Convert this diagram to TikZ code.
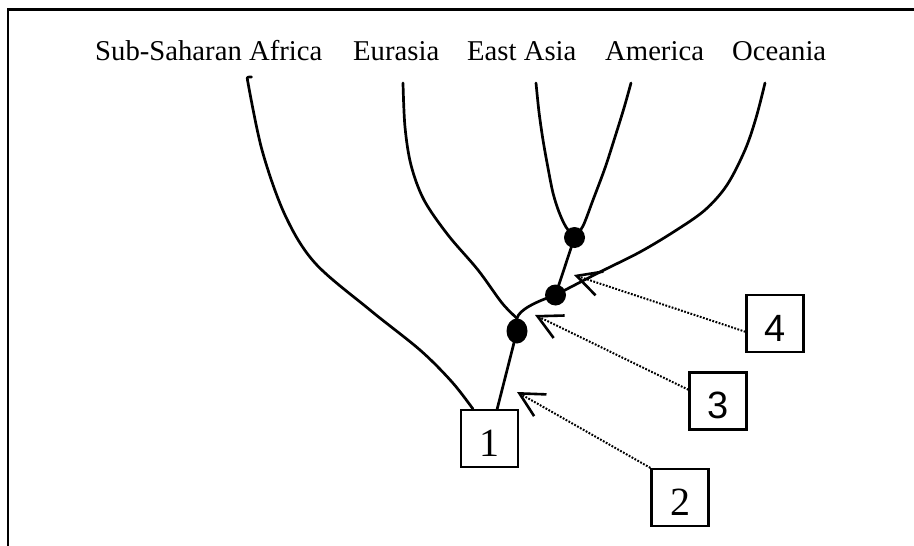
\documentclass[tikz,border=0pt]{standalone}
\usepackage{fontspec}
\setmainfont{Liberation Serif}
\newfontfamily\digsans{Liberation Sans}
\usetikzlibrary{arrows.meta,shapes.geometric,calc}
\begin{document}
\begin{tikzpicture}[x=1pt,y=-1pt,
  branch/.style={line width=2.7pt, line cap=round, line join=round},
  taxon/.style={anchor=base west, inner sep=0pt, font=\fontsize{28.7}{34}\selectfont},
  junction/.style={circle, fill=black, inner sep=0pt, minimum size=21pt},
  blob/.style={ellipse, fill=black, inner sep=0pt, minimum width=21pt, minimum height=25pt},
  numbox/.style={draw, line width=2.2pt, minimum size=57pt, inner sep=0pt, text height=35pt, text depth=0pt, font=\fontsize{40}{48}\selectfont},
  sansnum/.style={font=\digsans\fontsize{38}{46}\selectfont},
  pointer/.style={line width=2pt, dash pattern=on 1.8pt off 1.5pt, -{Straight Barb[length=24pt,width=25pt,line width=2.6pt]}}
]
\useasboundingbox (0,0) rectangle (914,546);
\fill[white] (0,0) rectangle (914,546);
% frame
\draw[line width=2.5pt] (914,9.5) -- (7.8,9.5) -- (7.8,546);

% taxa labels
\node[taxon] (ssa) at (95,60.7) {Sub-Saharan Africa};
\node[taxon] (eur) at (353,60.7) {Eurasia};
\node[taxon] (eas) at (467,60.7) {East Asia};
\node[taxon] (ame) at (605,60.7) {America};
\node[taxon] (oce) at (732,60.7) {Oceania};

% branch tips
\coordinate (tAfr) at (247.5,80);
\coordinate (tEur) at (403,83);
\coordinate (tEas) at (536,83);
\coordinate (tAme) at (631,83);
\coordinate (tOce) at (765,83);

% junctions
\node[blob] (A) at (517,331) {};
\node[junction] (B) at (555.5,295) {};
\node[junction] (C) at (574.5,237.5) {};

% boxes
\node[numbox] (b1) at (489.5,438.5) {1};
\node[numbox] (b2) at (680,497.5) {2};
\node[numbox, sansnum] (b3) at (718,401) {3};
\node[numbox, sansnum] (b4) at (775,323.5) {4};

\coordinate (r1) at ($(b1.north west)!0.22!(b1.north east)$);
\coordinate (r2) at ($(b1.north west)!0.63!(b1.north east)$);

% branches
\draw[branch] (tAfr) .. controls (247,77) .. (251.5,77);
\draw[branch] plot[smooth, tension=0.55] coordinates {(tAfr) (262,150) (285,215) (315,263) (370,310) (420,350) (452,382) (r1)};
\draw[branch] plot[smooth, tension=0.55] coordinates {(tEur) (405,127) (411,165) (424,200) (448,235) (478,270) (502,303) (A.north)};
\draw[branch] (A.north) .. controls (519,310) and (535,302) .. (B.center);
\draw[branch] (A.center) -- (r2);
\draw[branch] (B.center) -- (C.center);
\draw[branch] plot[smooth, tension=0.55] coordinates {(B.center) (600,272) (640,252) (675,231) (705,210) (727,185) (745,150) (756,118) (tOce)};
\draw[branch] plot[smooth, tension=0.55] coordinates {(C.center) (566,227) (559,212) (553,193) (548,168) (543,140) (539,112) (tEas)};
\draw[branch] plot[smooth, tension=0.55] coordinates {(C.center) (583,226) (593,200) (605,168) (615,137) (624,108) (tAme)};

% pointers
\coordinate (h2) at (517,392);
\coordinate (h3) at (535,315);
\coordinate (h4) at (574,275);
\draw[pointer] (b2.north west) -- (h2);
\draw[pointer] ($(b3.north west)!0.31!(b3.south west)$) -- (h3);
\draw[pointer] ($(b4.north west)!0.64!(b4.south west)$) -- (h4);
\end{tikzpicture}
\end{document}
